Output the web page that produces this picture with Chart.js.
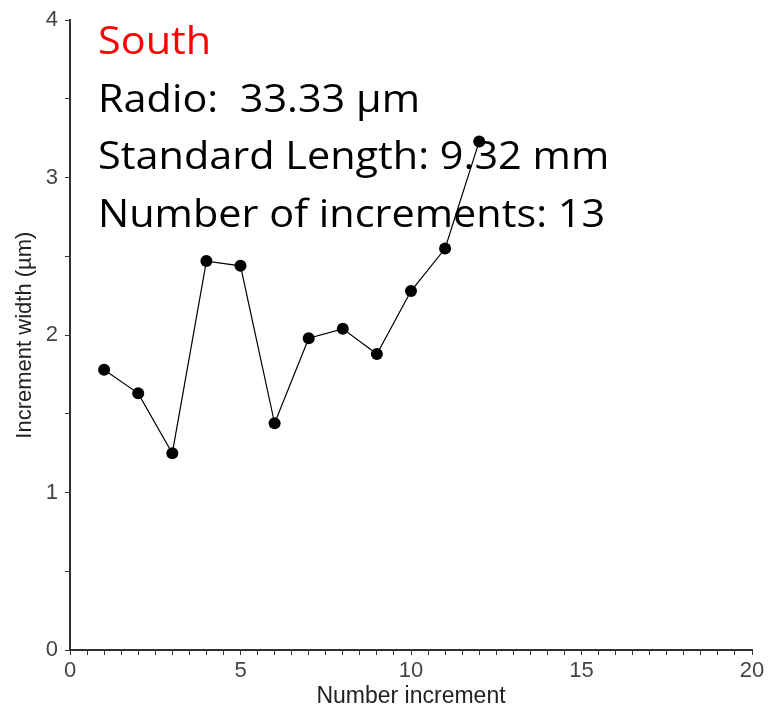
<!DOCTYPE html>
<html>
<head>
<meta charset="utf-8">
<script src="https://cdn.jsdelivr.net/npm/chart.js@4.4.0/dist/chart.umd.min.js"></script>
<style>
  html, body { margin: 0; padding: 0; background: #fff; }
  #wrap { width: 769px; height: 710px; }
</style>
</head>
<body>
<div id="wrap"><canvas id="incrementChart" width="769" height="710"></canvas></div>
<script>
'use strict'
// increment number and width (µm)
var increments = [1, 2, 3, 4, 5, 6, 7, 8, 9, 10, 11, 12];
var widths = [1.78, 1.63, 1.25, 2.47, 2.44, 1.44, 1.98, 2.04, 1.88, 2.28, 2.55, 3.23];

var xTickLabels = [0, 5, 10, 15, 20];
var yTickLabels = [0, 1, 2, 3, 4];

var infoLines = [
    { text: 'South', color: '#ff0000' },
    { text: 'Radio:  33.33 µm', color: '#000000' },
    { text: 'Standard Length: 9.32 mm', color: '#000000' },
    { text: 'Number of increments: 13', color: '#000000' }
];

var points = increments.map(function (n, i) {
    return { x: n, y: widths[i] };
});

var axisColor = '#333333';
var tickFont = { family: '"Liberation Sans", Arial, sans-serif', size: 22 };

// sample info printed in the upper left of the plot, under the line
var infoText = {
    id: 'infoText',
    beforeDatasetsDraw: function (chart) {
        var ctx = chart.ctx;
        ctx.save();
        ctx.font = '38px "Open Sans", sans-serif';
        ctx.textAlign = 'left';
        ctx.textBaseline = 'alphabetic';
        ctx.translate(98, 0);
        ctx.scale(1.09, 1);
        infoLines.forEach(function (line, i) {
            ctx.fillStyle = line.color;
            ctx.fillText(line.text, 0, 54 + i * 57.7);
        });
        ctx.restore();
    }
};

var incrementChartArea = document.getElementById('incrementChart');

var incrementChart = new Chart(incrementChartArea, {
    type: 'line',
    data: {
        datasets: [{
            data: points,
            borderColor: '#000000',
            borderWidth: 1.2,
            backgroundColor: '#000000',
            pointRadius: 6,
            pointHoverRadius: 6,
            pointBorderWidth: 0,
            tension: 0
        }]
    },
    options: {
        responsive: false,
        animation: false,
        layout: { padding: { top: 18, right: 17, left: 12, bottom: 0 } },
        plugins: {
            legend: { display: false },
            tooltip: { enabled: false }
        },
        scales: {
            x: {
                type: 'linear',
                min: 0,
                max: 20,
                grid: {
                    drawOnChartArea: false,
                    color: axisColor,
                    tickColor: axisColor,
                    tickLength: 5
                },
                border: { color: axisColor, width: 2 },
                ticks: {
                    stepSize: 0.5,
                    autoSkip: false,
                    maxRotation: 0,
                    padding: 3,
                    color: '#444444',
                    font: tickFont,
                    callback: function (v) {
                        return xTickLabels.indexOf(v) >= 0 ? String(v) : '';
                    }
                },
                title: {
                    display: true,
                    text: 'Number increment',
                    color: '#222222',
                    font: { family: '"Liberation Sans", Arial, sans-serif', size: 23 },
                    padding: { top: 0, bottom: 0 }
                },
                afterFit: function (scale) { scale.height = 60; }
            },
            y: {
                type: 'linear',
                min: 0,
                max: 4,
                grid: {
                    drawOnChartArea: false,
                    color: axisColor,
                    tickColor: axisColor,
                    tickLength: 5
                },
                border: { color: axisColor, width: 2 },
                ticks: {
                    stepSize: 0.5,
                    autoSkip: false,
                    padding: 7,
                    color: '#444444',
                    font: tickFont,
                    callback: function (v) {
                        return yTickLabels.indexOf(v) >= 0 ? String(v) : '';
                    }
                },
                title: {
                    display: true,
                    text: 'Increment width (µm)',
                    color: '#222222',
                    font: { family: '"Liberation Sans", Arial, sans-serif', size: 22 },
                    padding: { top: 0, bottom: 0 }
                },
                afterFit: function (scale) { scale.width = 58; }
            }
        }
    },
    plugins: [infoText]
});
</script>
</body>
</html>
